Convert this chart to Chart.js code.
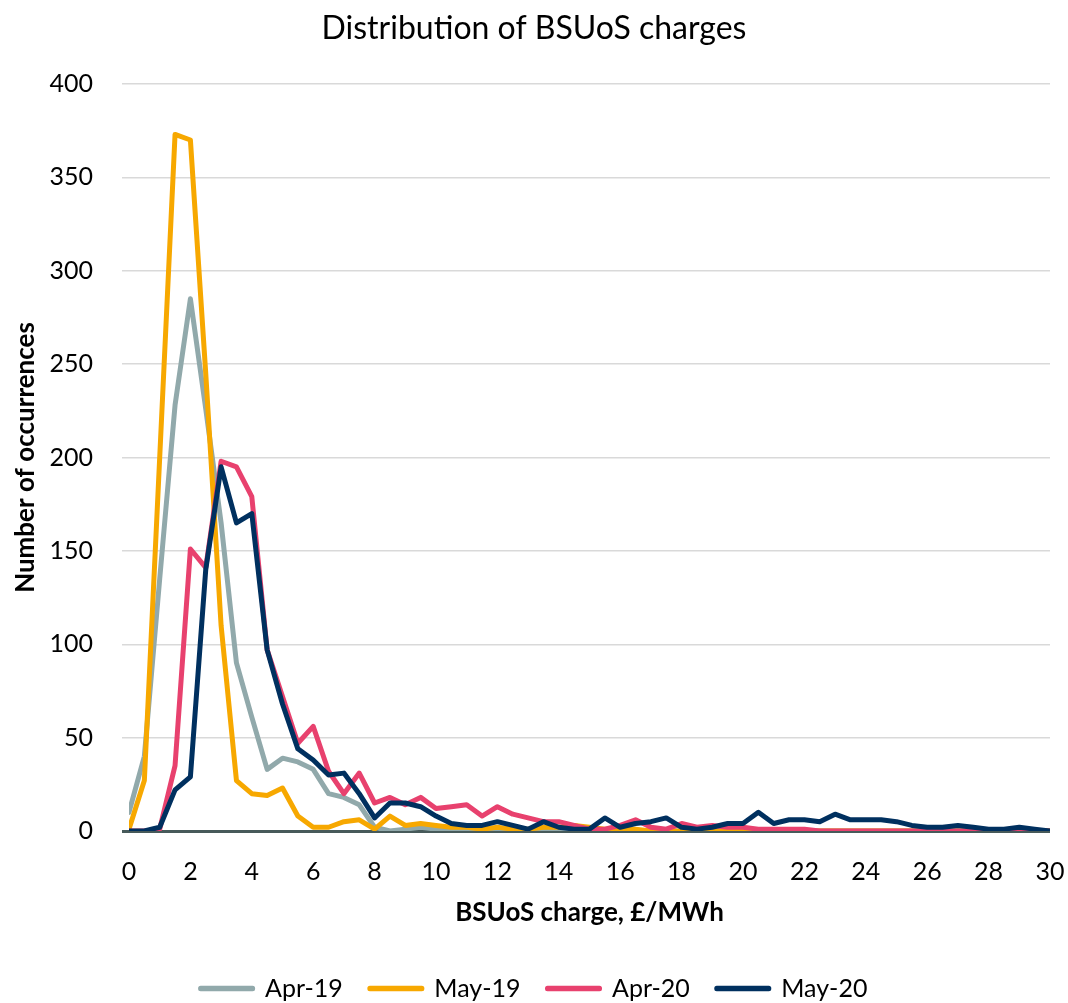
<!DOCTYPE html>
<html>
<head>
<meta charset="utf-8">
<title>Distribution of BSUoS charges</title>
<script src="https://cdn.jsdelivr.net/npm/chart.js@4"></script>
<style>
  body { margin: 0; background: #fff; }
  #wrap { width: 1068px; height: 1003px; }
</style>
</head>
<body>
<div id="wrap"><canvas id="myChart" width="1068" height="1003"></canvas></div>
<script>
// BSUoS charge bins, £/MWh
const charges = [0, 0.5, 1, 1.5, 2, 2.5, 3, 3.5, 4, 4.5, 5, 5.5, 6, 6.5, 7, 7.5, 8, 8.5, 9, 9.5,
  10, 10.5, 11, 11.5, 12, 12.5, 13, 13.5, 14, 14.5, 15, 15.5, 16, 16.5, 17, 17.5, 18, 18.5, 19, 19.5,
  20, 20.5, 21, 21.5, 22, 22.5, 23, 23.5, 24, 24.5, 25, 25.5, 26, 26.5, 27, 27.5, 28, 28.5, 29, 29.5, 30];

const apr19 = [10, 40, 135, 228, 285, 226, 165, 90, 61, 33, 39, 37, 33, 20, 18, 14, 2, 0, 1, 2,
  1, 0, 1, 0, 0, 1, 0, 0, 0, 0, 0, 0, 0, 0, 0, 0, 0, 0, 0, 0,
  0, 0, 0, 0, 0, 0, 0, 0, 0, 0, 0, 0, 0, 0, 0, 0, 0, 0, 0, 0, 0];

const may19 = [1, 27, 200, 373, 370, 245, 110, 27, 20, 19, 23, 8, 2, 2, 5, 6, 1, 8, 3, 4,
  3, 2, 2, 1, 2, 1, 1, 2, 2, 3, 2, 1, 1, 1, 0, 0, 0, 0, 0, 0,
  0, 0, 0, 0, 0, 0, 0, 0, 0, 0, 0, 0, 0, 0, 0, 0, 0, 0, 0, 0, 0];

const apr20 = [0, 0, 1, 35, 151, 141, 198, 195, 179, 97, 72, 47, 56, 32, 20, 31, 15, 18, 14, 18,
  12, 13, 14, 8, 13, 9, 7, 5, 5, 3, 1, 1, 3, 6, 2, 1, 4, 2, 3, 2,
  2, 1, 1, 1, 1, 0, 0, 0, 0, 0, 0, 0, 0, 0, 0, 0, 0, 0, 1, 0, 0];

const may20 = [0, 0, 2, 22, 29, 140, 195, 165, 170, 97, 68, 44, 38, 30, 31, 20, 7, 15, 15, 13,
  8, 4, 3, 3, 5, 3, 1, 5, 2, 1, 1, 7, 2, 4, 5, 7, 2, 1, 2, 4,
  4, 10, 4, 6, 6, 5, 9, 6, 6, 6, 5, 3, 2, 2, 3, 2, 1, 1, 2, 1, 0];

const seriesNames = ["Apr-19", "May-19", "Apr-20", "May-20"];
const seriesColors = ["#91a9ab", "#f7a800", "#e8416e", "#00305f"];
const yTicks = [0, 50, 100, 150, 200, 250, 300, 350, 400];
const xTickStep = 2;

const FONT = "Lato, 'Open Sans', sans-serif";
const axisDark = "#475a5a";
const gridGrey = "#d9d9d9";

function toPoints(values) {
  return values.map((v, i) => ({ x: charges[i], y: v }));
}

const allSeries = [apr19, may19, apr20, may20];

var chart = new Chart("myChart", {
  type: "line",
  data: {
    datasets: allSeries.map((vals, i) => ({
      label: seriesNames[i],
      data: toPoints(vals),
      borderColor: seriesColors[i],
      backgroundColor: seriesColors[i],
      borderWidth: 5,
      borderJoinStyle: "round",
      borderCapStyle: "round",
      pointRadius: 0,
      tension: 0,
      fill: false,
      order: allSeries.length - i   // later series on top, like Excel
    }))
  },
  options: {
    responsive: false,
    animation: false,
    layout: { padding: { top: 0, right: 0, bottom: -8, left: 0 } },
    plugins: {
      title: {
        display: true,
        text: "Distribution of BSUoS charges",
        color: "#000",
        font: { family: FONT, size: 32, weight: "normal" },
        padding: { top: 9, bottom: 36.6 }
      },
      legend: {
        position: "bottom",
        labels: {
          color: "#000",
          font: { family: FONT, size: 25 },
          boxWidth: 52,
          boxHeight: 0.5,
          padding: 27,
          sort: (a, b) => a.datasetIndex - b.datasetIndex
        }
      },
      tooltip: { enabled: false }
    },
    scales: {
      x: {
        type: "linear",
        min: 0,
        max: 30,
        afterFit: (scale) => {
          scale.height = 118;
          // tick padding is vertical here, don't let it widen the sides
          scale.paddingLeft = 0;
          scale.paddingRight = 18;
        },
        grid: { display: false, drawTicks: false },
        border: { display: false },
        ticks: {
          stepSize: xTickStep,
          color: "#000",
          font: { family: FONT, size: 25 },
          padding: 26,
          maxRotation: 0
        },
        title: {
          display: true,
          text: "BSUoS charge, £/MWh",
          color: "#000",
          font: { family: FONT, size: 26, weight: "bold" },
          padding: { top: 0, bottom: 20.4 }
        }
      },
      y: {
        min: yTicks[0],
        max: yTicks[yTicks.length - 1],
        afterFit: (scale) => { scale.width = 129; },
        afterBuildTicks: (scale) => { scale.ticks = yTicks.map(v => ({ value: v })); },
        border: { display: false },
        grid: {
          drawTicks: true,
          tickLength: 7,
          color: (ctx) => ctx.tick && ctx.tick.value === 0 ? axisDark : gridGrey,
          tickColor: (ctx) => ctx.tick && ctx.tick.value === 0 ? axisDark : gridGrey,
          lineWidth: (ctx) => ctx.tick && ctx.tick.value === 0 ? 3 : 1.5
        },
        ticks: {
          color: "#000",
          font: { family: FONT, size: 25 },
          padding: 29
        },
        title: {
          display: true,
          text: "Number of occurrences",
          color: "#000",
          font: { family: FONT, size: 26, weight: "bold" },
          padding: { top: 10, bottom: 0 }
        }
      }
    }
  }
});
</script>
</body>
</html>
